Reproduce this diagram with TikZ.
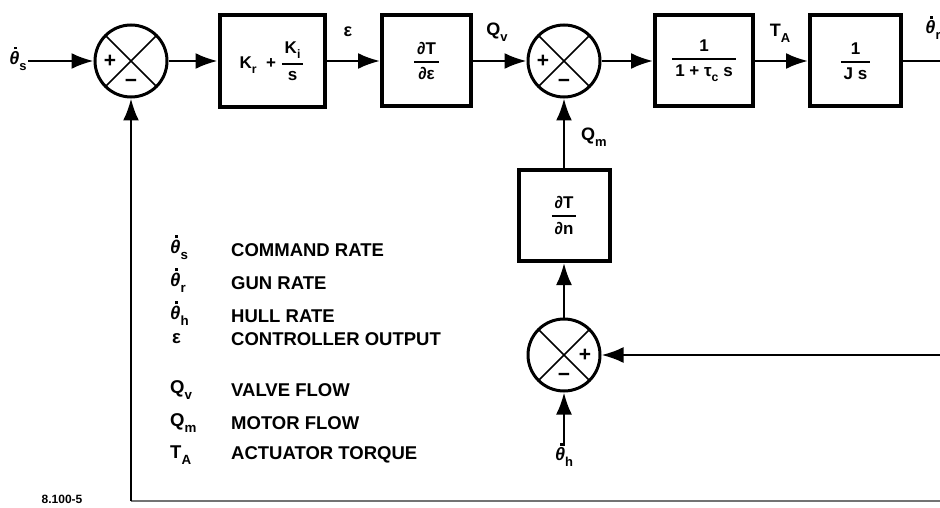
\documentclass[tikz,border=0pt]{standalone}
\usepackage{amsmath}
\usepackage{fontspec}
\setmainfont{Liberation Sans}
\usetikzlibrary{arrows.meta,calc}
\newcommand\thdot{\ooalign{\textit{θ}\cr\hidewidth\kern0.14em\raisebox{0.84em}{\rule{0.15em}{0.15em}}\hidewidth\cr}}
\newcommand\sbs[1]{\raisebox{-0.32em}{\scalebox{0.72}{#1}}}
\newcommand\fr[2]{$\genfrac{}{}{1.6pt}{0}{\mbox{\,#1\,}}{\mbox{\,#2\,}}$}
\begin{document}
\begin{tikzpicture}[x=1pt,y=-1pt,
  font=\bfseries,
  sumnode/.style={circle, draw, line width=3pt, minimum size=72pt, inner sep=0pt,
    path picture={\draw[line width=1.6pt]
      (path picture bounding box.north west) -- (path picture bounding box.south east)
      (path picture bounding box.north east) -- (path picture bounding box.south west);}},
  blk/.style={draw, line width=4pt, rectangle, inner sep=0pt, font=\bfseries\fontsize{17}{19}\selectfont},
  conn/.style={line width=2.5pt, -{Latex[length=22pt,width=16pt]}},
  plainline/.style={line width=2.5pt},
  sig/.style={font=\bfseries\fontsize{18}{20}\selectfont, inner sep=1pt},
  sgn/.style={font=\bfseries\fontsize{21}{22}\selectfont, inner sep=0pt},
  leg/.style={anchor=west, font=\bfseries\fontsize{18.5}{20}\selectfont, inner sep=0pt}
]
\useasboundingbox (0,0) rectangle (940,508);

% summing junctions
\node[sumnode] (s1) at (131,61) {};
\node[sumnode] (s2) at (564,61) {};
\node[sumnode] (s3) at (564,355) {};
\node[sgn] (s1p) at ($(s1.center)+(-21,0)$) {+};
\node[sgn] (s1m) at ($(s1.center)+(0,22)$) {−};
\node[sgn] (s2p) at ($(s2.center)+(-21,0)$) {+};
\node[sgn] (s2m) at ($(s2.center)+(0,22)$) {−};
\node[sgn] (s3p) at ($(s3.center)+(21,0)$) {+};
\node[sgn] (s3m) at ($(s3.center)+(0,22)$) {−};

% blocks
\node[blk, minimum width=105pt, minimum height=92pt] (b1) at (272,61)
  {K\sbs{r}\ \ +\ \fr{K\sbs{i}}{s}};
\node[blk, minimum width=89pt, minimum height=91pt] (b2) at (426.5,61)
  {\fr{∂T}{∂ε}};
\node[blk, minimum width=98pt, minimum height=91pt] (b3) at (704,61)
  {\fr{1}{1 + τ\sbs{c} s}};
\node[blk, minimum width=91pt, minimum height=91pt] (b4) at (855.5,61)
  {\fr{1}{J s}};
\node[blk, minimum width=91pt, minimum height=91pt] (b5) at (564,215.5)
  {\fr{∂T}{∂n}};

% signal labels
\node[sig] (ins) at (18,61) {\thdot\sbs{s}};
\node[sig] (leps) at (348,32) {ε};
\node[sig] (lqv) at (497,32) {Q\sbs{v}};
\node[sig] (lta) at (780,33) {T\sbs{A}};
\node[sig] (lthr) at (933,30) {\thdot\sbs{r}};
\node[sig] (lqm) at (594,137) {Q\sbs{m}};
\node[sig] (thh) at (564,457) {\thdot\sbs{h}};

% edge coordinates
\coordinate (outR) at (940,61);
\coordinate (hR) at (940,355);
\coordinate (fbR) at (940,501);
\coordinate (fbL) at (131,501);

% connectors
\draw[conn] (ins.east |- s1.west) -- (s1.west);
\draw[conn] (s1.east) -- (b1.west);
\draw[conn] (b1.east) -- (b2.west);
\draw[conn] (b2.east) -- (s2.west);
\draw[conn] (s2.east) -- (b3.west);
\draw[conn] (b3.east) -- (b4.west);
\draw[plainline] (b4.east) -- (outR);
\draw[conn] (hR) -- (s3.east);
\draw[conn] (thh.north) -- (s3.south);
\draw[conn] (s3.north) -- (b5.south);
\draw[conn] (b5.north) -- (s2.south);
\draw[line width=1.5pt, black!55] (fbR) -- (fbL);
\draw[conn] (fbL) -- (s1.south);

% legend
\node[leg] (k1) at (170,250) {\thdot\sbs{s}};
\node[leg] (k2) at (170,283) {\thdot\sbs{r}};
\node[leg] (k3) at (170,316) {\thdot\sbs{h}};
\node[leg] (k4) at (172,339) {ε};
\node[leg] (k5) at (170,390) {Q\sbs{v}};
\node[leg] (k6) at (170,423) {Q\sbs{m}};
\node[leg] (k7) at (170,455) {T\sbs{A}};
\node[leg] (t1) at (231,250) {COMMAND RATE};
\node[leg] (t2) at (231,283) {GUN RATE};
\node[leg] (t3) at (231,316) {HULL RATE};
\node[leg] (t4) at (231,339) {CONTROLLER OUTPUT};
\node[leg] (t5) at (231,390) {VALVE FLOW};
\node[leg] (t6) at (231,423) {MOTOR FLOW};
\node[leg] (t7) at (231,455) {ACTUATOR TORQUE};

\node[font=\bfseries\fontsize{12}{14}\selectfont, inner sep=0pt] (fig) at (62,499) {8.100-5};
\end{tikzpicture}
\end{document}
